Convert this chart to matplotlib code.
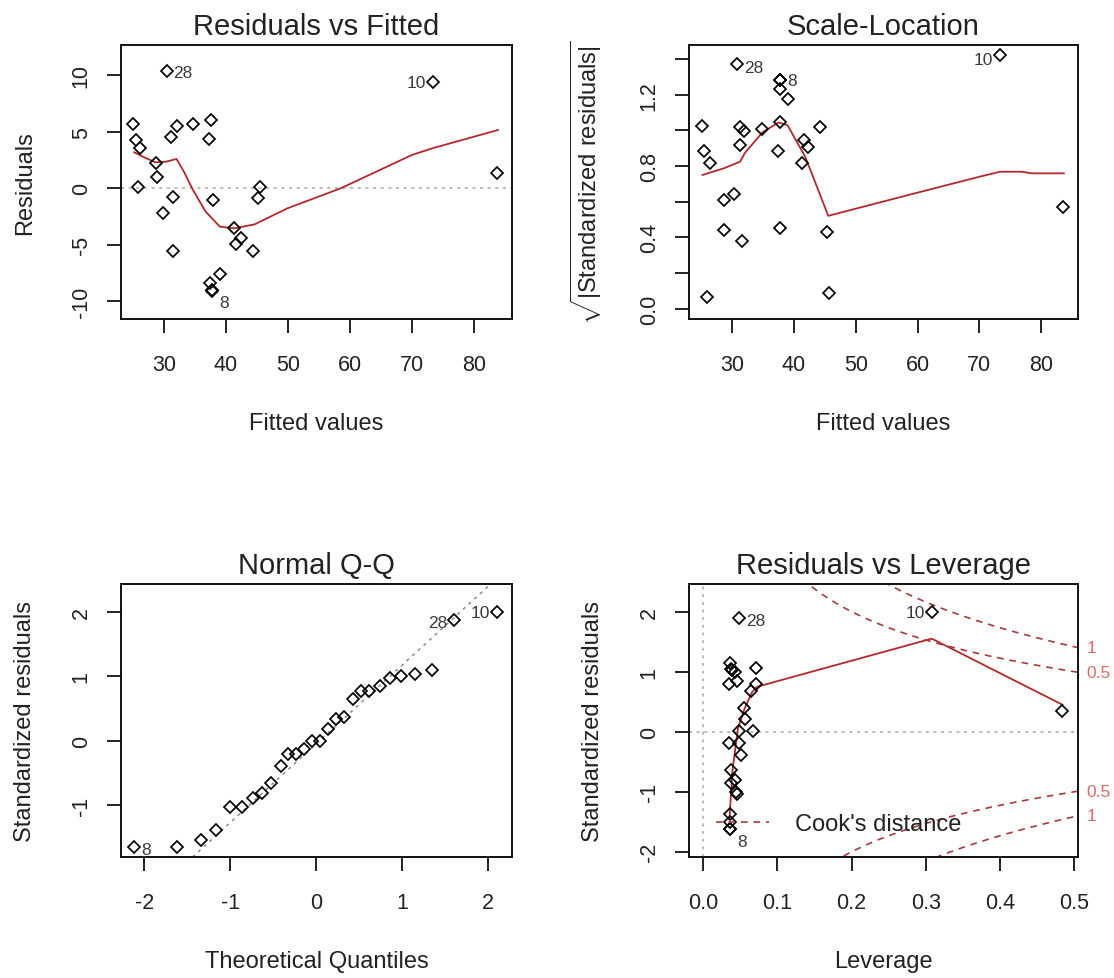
import numpy as np
import matplotlib
matplotlib.use("Agg")
import matplotlib.pyplot as plt

plt.rcParams['font.family'] = ['Liberation Sans', 'DejaVu Sans']
plt.rcParams['axes.unicode_minus'] = False
plt.rcParams['mathtext.fontset'] = 'custom'
plt.rcParams['mathtext.rm'] = 'Liberation Sans'

# ---- Residuals vs Fitted
fitted = [25.05, 25.45, 26.09, 25.8, 28.68, 28.8, 29.83, 30.4, 31.04, 32.0, 31.38, 31.38, 34.66, 37.6,
          37.3, 37.83, 37.48, 37.71, 37.71, 39.09, 41.33, 41.57, 42.37, 44.33, 45.53, 45.19, 73.33, 83.68]
resid = [5.66, 4.28, 3.6, 0.09, 2.24, 1.03, -2.15, 10.38, 4.54, 5.55, -0.74, -5.52, 5.69, 6.02,
         4.4, -1.03, -8.35, -9.09, -9.0, -7.58, -3.51, -4.93, -4.37, -5.52, 0.09, -0.88, 9.38, 1.36]
rf_smooth_x = [25.17, 26.9, 28.6, 30.35, 32.0, 33.2, 34.66, 36.7, 39.0, 41.3, 44.6, 49.9, 58.5, 70.0, 73.3, 83.9]
rf_smooth_y = [3.19, 2.71, 2.30, 2.36, 2.6, 1.47, -0.15, -2.06, -3.39, -3.54, -3.19, -1.77, 0.0, 2.95, 3.54, 5.16]
rf_ids = {'28': 7, '10': 26, '8': 17}

# ---- Scale-Location
sl_x = [25.07, 25.41, 26.39, 25.87, 28.62, 30.23, 28.74, 30.75, 31.26, 31.95, 31.32, 31.55, 34.82, 37.74,
        37.74, 37.74, 39.0, 37.74, 37.45, 37.74, 41.64, 42.21, 41.3, 44.16, 45.37, 45.65, 73.4, 83.5]
sl_y = [1.025, 0.884, 0.815, 0.065, 0.61, 0.644, 0.439, 1.369, 1.018, 0.995, 0.915, 0.378, 1.01, 1.28,
        1.28, 1.233, 1.178, 1.047, 0.884, 0.45, 0.945, 0.904, 0.815, 1.016, 0.43, 0.086, 1.421, 0.571]
sl_smooth_x = [25.18, 28.62, 31.26, 32.06, 34.93, 37.51, 38.94, 41.81, 45.54, 60.0, 70.0, 73.35, 76.8, 78.5, 83.67]
sl_smooth_y = [0.75, 0.787, 0.824, 0.874, 0.99, 1.044, 1.029, 0.852, 0.521, 0.651, 0.74, 0.768, 0.768, 0.759, 0.759]
sl_ids = {'28': 7, '10': 26, '8': 13}

# ---- Normal Q-Q
qq_x = [-2.12, -1.62, -1.34, -1.16, -1.0, -0.86, -0.73, -0.63, -0.52, -0.41, -0.33, -0.23, -0.14, -0.05,
        0.04, 0.14, 0.23, 0.32, 0.43, 0.52, 0.62, 0.74, 0.86, 0.99, 1.15, 1.35, 1.61, 2.10]
qq_y = [-1.65, -1.65, -1.54, -1.39, -1.03, -1.03, -0.89, -0.81, -0.66, -0.40, -0.20, -0.20, -0.13, 0.0,
        0.0, 0.19, 0.34, 0.37, 0.65, 0.78, 0.78, 0.85, 0.98, 1.01, 1.04, 1.10, 1.88, 2.0]
qq_line = (-0.05, 1.225)  # intercept, slope
qq_ids = {'8': 0, '28': 26, '10': 27}

# ---- Residuals vs Leverage
lev = [0.036, 0.037, 0.039, 0.043, 0.046, 0.035, 0.048, 0.071, 0.071, 0.065, 0.055, 0.056, 0.049, 0.067,
       0.035, 0.049, 0.051, 0.037, 0.043, 0.037, 0.044, 0.045, 0.036, 0.036, 0.036, 0.036, 0.308, 0.484]
std_res = [1.14, 1.05, 1.02, 1.0, 0.85, 0.79, 1.90, 1.06, 0.79, 0.675, 0.40, 0.22, 0.02, 0.01,
           -0.18, -0.18, -0.38, -0.63, -0.81, -0.86, -1.01, -1.03, -1.37, -1.51, -1.62, -1.62, 1.99, 0.343]
lev_smooth_x = [0.0355, 0.0396, 0.047, 0.056, 0.066, 0.073, 0.308, 0.484]
lev_smooth_y = [-1.45, -0.64, 0.055, 0.39, 0.66, 0.75, 1.55, 0.45]
lev_ids = {'28': 6, '10': 26, '8': 24}
cook_levels = [0.5, 1.0]
n_params = 2

RED = '#b3282c'
TXT = '#222222'
ID = '#3a3a3a'
W, H = 1114, 979


def make_ax(x0, y0, x1, y1):
    return fig.add_axes([x0 / W, 1 - y1 / H, (x1 - x0) / W, (y1 - y0) / H])


def style(ax, title, xlabel, ylabel, xticks, yticks, ylabels=None):
    ax.set_title(title, fontsize=21, color=TXT, pad=8)
    ax.set_xlabel(xlabel, fontsize=17, color=TXT, labelpad=27)
    ax.set_ylabel(ylabel, fontsize=17, color=TXT, labelpad=25)
    ax.set_xticks(xticks)
    ax.set_yticks(yticks)
    if ylabels is not None:
        ax.set_yticklabels(ylabels)
    ax.tick_params(direction='out', length=10, width=1.3, labelsize=15.5, colors='#111111',
                   labelcolor=TXT)
    ax.tick_params(axis='x', pad=15)
    ax.tick_params(axis='y', pad=11)
    for lab in ax.get_yticklabels():
        lab.set_rotation(90)
        lab.set_va('center')
    for s in ax.spines.values():
        s.set_linewidth(1.4)
        s.set_color('#111111')


def points(ax, x, y):
    ax.plot(x, y, linestyle='none', marker='D', ms=6.3, mfc='none', mec='black', mew=1.25, zorder=3)


def idlabel(ax, x, y, ids, right, dy=None):
    for lab, i in ids.items():
        off = dy.get(lab, 0) if dy else 0
        if right.get(lab, True):
            ax.annotate(lab, (x[i], y[i]), xytext=(5, off), textcoords='offset points',
                        ha='left', va='center', fontsize=12.5, color=ID)
        else:
            ax.annotate(lab, (x[i], y[i]), xytext=(-5, off), textcoords='offset points',
                        ha='right', va='center', fontsize=12.5, color=ID)


fig = plt.figure(figsize=(W / 100, H / 100), dpi=100)

# Residuals vs Fitted
ax1 = make_ax(121, 46, 512, 320)
ax1.axhline(0, color='#aaaaaa', lw=1.1, ls=(0, (2, 3)))
ax1.plot(rf_smooth_x, rf_smooth_y, color=RED, lw=1.3, zorder=2)
points(ax1, fitted, resid)
idlabel(ax1, fitted, resid, rf_ids, {'10': False}, {'8': -8, '28': -1})
ax1.set_xlim(23.04, 86.16)
ax1.set_ylim(-11.56, 12.68)
style(ax1, 'Residuals vs Fitted', 'Fitted values', 'Residuals', [30, 40, 50, 60, 70, 80], [-10, -5, 0, 5, 10])

# Scale-Location
ax2 = make_ax(689, 46, 1078, 320)
ax2.plot(sl_smooth_x, sl_smooth_y, color=RED, lw=1.3, zorder=2)
points(ax2, sl_x, sl_y)
idlabel(ax2, sl_x, sl_y, sl_ids, {'10': False}, {'28': -2, '10': -3})
ax2.set_xlim(23.0, 85.96)
ax2.set_ylim(-0.057, 1.478)
style(ax2, 'Scale-Location', 'Fitted values', r'$\sqrt{|\mathrm{Standardized\ residuals}|}$',
      [30, 40, 50, 60, 70, 80], [0.0, 0.2, 0.4, 0.6, 0.8, 1.0, 1.2, 1.4],
      ['0.0', '', '0.4', '', '0.8', '', '1.2', ''])

# Normal Q-Q
ax3 = make_ax(121, 585, 512, 858)
ax3.axline((0, qq_line[0]), slope=qq_line[1], color='#888888', lw=1.1, ls=(0, (2, 3)), zorder=1)
points(ax3, qq_x, qq_y)
idlabel(ax3, qq_x, qq_y, qq_ids, {'28': False, '10': False}, {'8': -2, '28': -2})
ax3.set_xlim(-2.27, 2.28)
ax3.set_ylim(-1.81, 2.44)
style(ax3, 'Normal Q-Q', 'Theoretical Quantiles', 'Standardized residuals', [-2, -1, 0, 1, 2], [-1, 0, 1, 2])

# Residuals vs Leverage
ax4 = make_ax(689, 585, 1078, 858)
xmax = 0.505
ax4.set_xlim(-0.019, xmax)
ax4.set_ylim(-2.086, 2.46)
ax4.axhline(0, color='#aaaaaa', lw=1.1, ls=(0, (2, 3)))
ax4.axvline(0, color='#aaaaaa', lw=1.1, ls=(0, (2, 3)))
ax4.plot(lev_smooth_x, lev_smooth_y, color=RED, lw=1.3, zorder=2)
hh = np.linspace(0.005, xmax, 101)
for i, c in enumerate(cook_levels):
    cy = np.sqrt(c * n_params * (1 - hh) / hh)
    ax4.plot(hh, cy, color='#a83a3a', lw=1.2, ls=(0, (4, 3.5)),
             label="Cook's distance" if i == 0 else None)
    ax4.plot(hh, -cy, color='#a83a3a', lw=1.2, ls=(0, (4, 3.5)))
    yl = np.sqrt(c * n_params * (1 - xmax) / xmax)
    for sgn in (1, -1):
        ax4.annotate('%g' % c, (1.0, sgn * yl), xycoords=('axes fraction', 'data'),
                     xytext=(6, 0), textcoords='offset points', ha='left', va='center',
                     fontsize=12.5, color='#e06a6a', annotation_clip=False)
points(ax4, lev, std_res)
idlabel(ax4, lev, std_res, lev_ids, {'10': False}, {'8': -9, '28': -2})
ax4.legend(loc='center left', bbox_to_anchor=(0.069, 0.12), frameon=False, fontsize=17,
           handlelength=2.25, handletextpad=1.1, borderpad=0, borderaxespad=0, labelcolor=TXT)
style(ax4, 'Residuals vs Leverage', 'Leverage', 'Standardized residuals',
      [0.0, 0.1, 0.2, 0.3, 0.4, 0.5], [-2, -1, 0, 1, 2])
ax4.set_xticklabels(['0.0', '0.1', '0.2', '0.3', '0.4', '0.5'])

fig.savefig('out.png', dpi=100)
